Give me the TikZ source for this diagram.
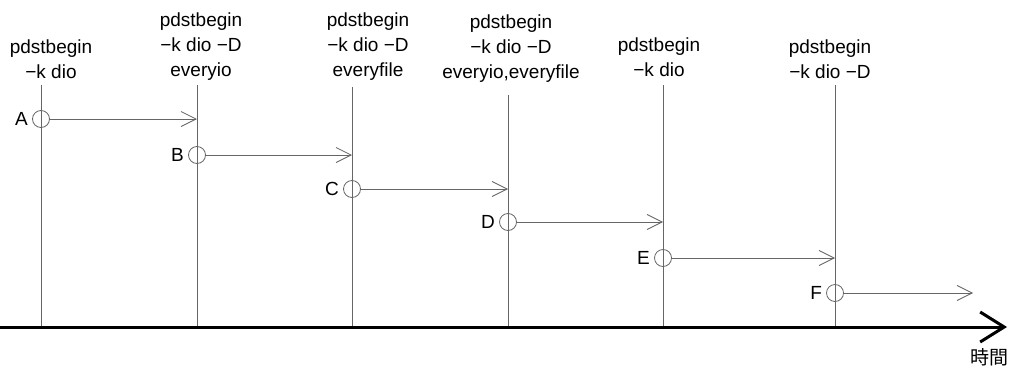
\documentclass[tikz,border=0pt]{standalone}
\usepackage{fontspec}
\setmainfont{Liberation Sans}
\newfontfamily\cjk{Noto Sans CJK JP}
\usetikzlibrary{arrows.meta}
\begin{document}
\begin{tikzpicture}[x=1pt,y=-1pt,
  vline/.style={draw=black!60, line width=0.8pt},
  evt/.style={circle, draw=black!60, line width=0.8pt, minimum size=17pt, inner sep=0pt},
  lbl/.style={font=\fontsize{19}{25}\selectfont, align=center, inner sep=0pt},
  letter/.style={font=\fontsize{19}{23}\selectfont, inner sep=0pt, anchor=east},
  conn/.style={draw=black!60, line width=0.8pt, -{Straight Barb[length=15pt,width=15pt]}},
  axis/.style={draw=black, line width=3pt, -{Straight Barb[length=24pt,width=30pt]}}
]
\useasboundingbox (0,0) rectangle (1011,367);

% vertical lines
\coordinate (t1) at (41,85);  \coordinate (b1) at (41,327);
\coordinate (t2) at (197,85); \coordinate (b2) at (197,327);
\coordinate (t3) at (352,87); \coordinate (b3) at (352,327);
\coordinate (t4) at (508,95); \coordinate (b4) at (508,327);
\coordinate (t5) at (663,85); \coordinate (b5) at (663,327);
\coordinate (t6) at (835,85); \coordinate (b6) at (835,327);
\foreach \i in {1,...,6} \draw[vline] (t\i) -- (b\i);

% labels
\node[lbl] (L1) at (51,59) {pdstbegin\\−k dio};
\node[lbl] (L2) at (201,47) {pdstbegin\\−k dio −D\\everyio};
\node[lbl] (L3) at (368,47) {pdstbegin\\−k dio −D\\everyfile};
\node[lbl] (L4) at (511,49) {pdstbegin\\−k dio −D\\everyio,everyfile};
\node[lbl] (L5) at (659,57) {pdstbegin\\−k dio};
\node[lbl] (L6) at (830,59) {pdstbegin\\−k dio −D};

% events
\node[evt] (cA) at (41,119) {};
\node[evt] (cB) at (197,155) {};
\node[evt] (cC) at (352,189) {};
\node[evt] (cD) at (508,222) {};
\node[evt] (cE) at (663,258) {};
\node[evt] (cF) at (835,293) {};
\node[letter] (A) at ([xshift=-4pt]cA.west) {A};
\node[letter] (B) at ([xshift=-4pt]cB.west) {B};
\node[letter] (C) at ([xshift=-4pt]cC.west) {C};
\node[letter] (D) at ([xshift=-4pt]cD.west) {D};
\node[letter] (E) at ([xshift=-4pt]cE.west) {E};
\node[letter] (F) at ([xshift=-4pt]cF.west) {F};

\coordinate (end6) at (973,293);
\draw[conn] (cA.east) -- (cA -| b2);
\draw[conn] (cB.east) -- (cB -| b3);
\draw[conn] (cC.east) -- (cC -| b4);
\draw[conn] (cD.east) -- (cD -| b5);
\draw[conn] (cE.east) -- (cE -| b6);
\draw[conn] (cF.east) -- (end6);

% time axis
\coordinate (ax0) at (0,327);
\coordinate (ax1) at (1007,327);
\draw[axis] (ax0) -- (ax1);
\node[font=\cjk\fontsize{19}{19}\selectfont, inner sep=0pt] (time) at (989,357) {時間};
\end{tikzpicture}
\end{document}
